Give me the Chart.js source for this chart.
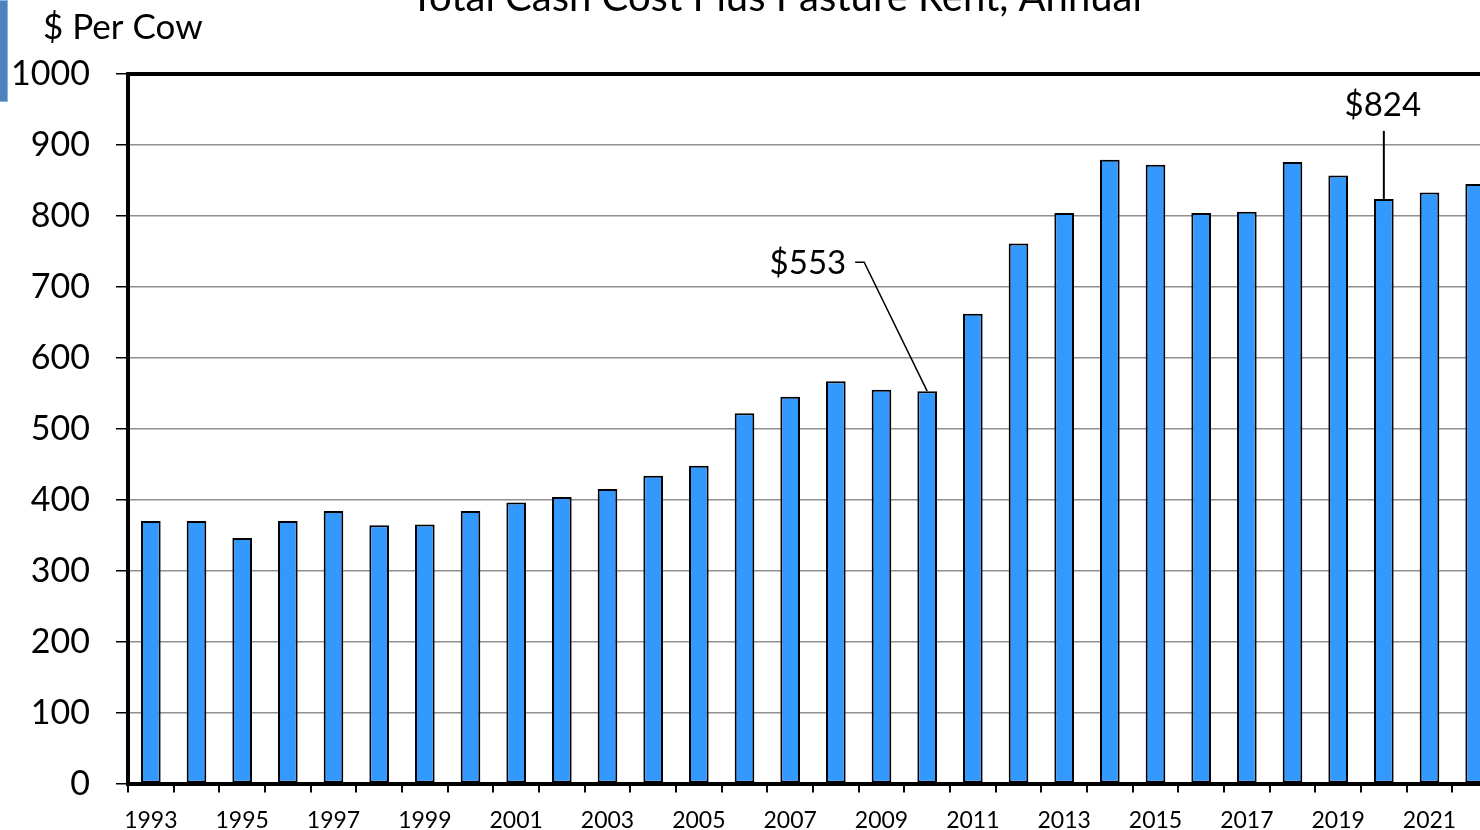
<!DOCTYPE html>
<html>
<head>
<meta charset="utf-8">
<script src="https://cdn.jsdelivr.net/npm/chart.js@4.4.1/dist/chart.umd.min.js"></script>
<style>
  html, body { margin: 0; padding: 0; overflow: hidden; background: #fff; }
  #wrap { position: relative; width: 1500px; height: 830px; }
  #tab { position: absolute; left: 0; top: 0; width: 7px; height: 100px; background: #4f81bd; border: 1px solid #8eb4e3; border-left: none; }
</style>
</head>
<body>
<div id="wrap">
  <canvas id="cost" width="1500" height="830"></canvas>
  <div id="tab"></div>
</div>
<script>
// Годы и затраты на корову ($)
const years = ['1993', '1994', '1995', '1996', '1997', '1998', '1999', '2000', '2001', '2002',
  '2003', '2004', '2005', '2006', '2007', '2008', '2009', '2010', '2011', '2012',
  '2013', '2014', '2015', '2016', '2017', '2018', '2019', '2020', '2021', '2022'];
const costPerCow = [370, 370, 346, 370, 384, 364, 365, 384, 396, 404,
  415, 434, 448, 522, 545, 567, 555, 553, 662, 761,
  804, 879, 872, 804, 806, 876, 857, 824, 833, 845];

// Подписи-выноски
const calloutYears = ['2010', '2020'];
const calloutTexts = ['$553', '$824'];

const chartTitle = 'Total Cash Cost Plus Pasture Rent, Annual';
const yAxisTitle = '$ Per Cow';

const FONT = 'Lato, "Open Sans", sans-serif';

// Заголовок, рамка сверху и выноски
const overlayPlugin = {
  id: 'overlay',
  afterDatasetsDraw(chart) {
    const { ctx, chartArea, scales } = chart;
    const x = scales.x;
    const y = scales.y;

    ctx.save();
    // верхняя рамка
    ctx.strokeStyle = '#000';
    ctx.lineWidth = 4;
    ctx.beginPath();
    ctx.moveTo(chartArea.left - 2, chartArea.top);
    ctx.lineTo(chartArea.right, chartArea.top);
    ctx.stroke();

    ctx.fillStyle = '#000';
    ctx.textAlign = 'center';
    ctx.textBaseline = 'alphabetic';
    ctx.font = '40px ' + FONT;
    ctx.fillText(chartTitle, 776, 11);

    ctx.textAlign = 'left';
    ctx.font = '35px ' + FONT;
    ctx.fillText(yAxisTitle, 43, 39);

    // $553 - наклонная выноска
    let idx = years.indexOf(calloutYears[0]);
    let bx = x.getPixelForValue(idx);
    let by = y.getPixelForValue(costPerCow[idx]);
    ctx.font = '33px ' + FONT;
    ctx.textAlign = 'right';
    ctx.textBaseline = 'middle';
    ctx.fillText(calloutTexts[0], bx - 81, by - 128);
    ctx.lineWidth = 1.5;
    ctx.beginPath();
    ctx.moveTo(bx - 72, by - 129);
    ctx.lineTo(bx - 63, by - 129);
    ctx.lineTo(bx, by);
    ctx.stroke();

    // $824 - вертикальная выноска
    idx = years.indexOf(calloutYears[1]);
    bx = x.getPixelForValue(idx);
    by = y.getPixelForValue(costPerCow[idx]);
    ctx.textAlign = 'center';
    ctx.fillText(calloutTexts[1], bx - 1, by - 94);
    ctx.lineWidth = 2;
    ctx.beginPath();
    ctx.moveTo(bx, by - 68);
    ctx.lineTo(bx, by);
    ctx.stroke();
    ctx.restore();
  }
};

new Chart(document.getElementById('cost'), {
  type: 'bar',
  data: {
    labels: years,
    datasets: [
      {
        label: yAxisTitle,
        data: costPerCow,
        backgroundColor: '#3399ff',
        borderColor: '#000',
        borderWidth: 2,
        borderSkipped: false,
        barPercentage: 0.43,
        categoryPercentage: 1,
      },
    ],
  },
  options: {
    responsive: false,
    animation: false,
    layout: {
      padding: { left: 0, right: 2, top: 74, bottom: 0 },
    },
    plugins: {
      legend: { display: false },
      title: { display: false },
      tooltip: { enabled: false },
    },
    scales: {
      x: {
        afterFit(scale) {
          scale.height = 46;
        },
        border: { color: '#000', width: 4 },
        grid: {
          offset: true,
          drawOnChartArea: false,
          tickLength: 9,
          tickColor: '#000',
          lineWidth: 2,
        },
        ticks: {
          autoSkip: false,
          maxRotation: 0,
          minRotation: 0,
          padding: 14,
          color: '#000',
          font: { family: FONT, size: 23 },
          callback: (val, i) => (i % 2 === 0 ? years[i] : ''),
        },
      },
      y: {
        min: 0,
        max: 1000,
        afterFit(scale) {
          scale.width = 128;
        },
        border: { color: '#000', width: 4 },
        grid: {
          color: '#909090',
          lineWidth: 1.5,
          tickLength: 12,
          tickColor: '#000',
        },
        ticks: {
          stepSize: 100,
          padding: 26,
          color: '#000',
          font: { family: FONT, size: 34 },
          callback: (val) => String(val),
        },
      },
    },
  },
  plugins: [overlayPlugin],
});
</script>
</body>
</html>
